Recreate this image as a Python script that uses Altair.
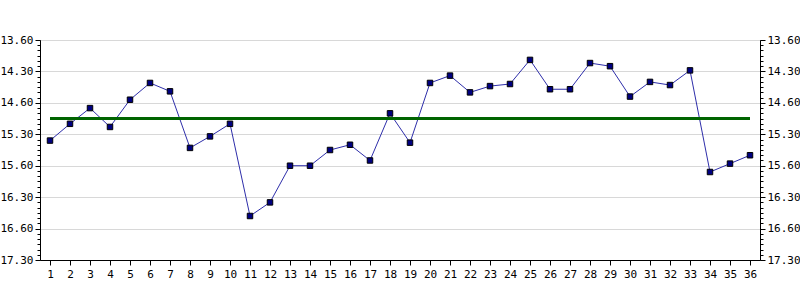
import altair as alt
import pandas as pd

# Race number (x) and finishing time in seconds (y); axis labels shown as min.sec style
races = list(range(1, 37))
times_sec = [
    936, 920, 905, 923, 897, 881, 889, 943, 932, 920,
    1008, 995, 960, 960, 945, 940, 955, 910, 938, 881,
    874, 890, 884, 882, 859, 887, 887, 862, 865, 894,
    880, 883, 869, 966, 958, 950,
]
mean_time = 915
y_tick_labels = ["13.60", "14.30", "14.60", "15.30", "15.60", "16.30", "16.60", "17.30"]
y_min, y_max, y_major = 840, 1050, 30
y_minor = 5

df = pd.DataFrame({"race": races, "time": times_sec})
mean_df = pd.DataFrame({"x0": [races[0]], "x1": [races[-1]], "t": [mean_time]})

font = "DejaVu Sans Mono"
label_arr = "[" + ",".join("'%s'" % s for s in y_tick_labels) + "]"
label_expr = (
    f"datum.value % {y_major} === 0 ? {label_arr}[round((datum.value - {y_min}) / {y_major})] : ''"
)
major_test = f"datum.value % {y_major} === 0"
tick_vals = list(range(y_min, y_max + 1, y_minor))

yscale = alt.Scale(domain=[y_min, y_max], reverse=True, nice=False, zero=False)
xscale = alt.Scale(domain=[races[0] - 0.5, races[-1] + 0.5], nice=False, zero=False)


def y_axis(orient, grid):
    return alt.Axis(
        orient=orient,
        values=tick_vals,
        labelExpr=label_expr,
        labelOverlap=False,
        labelFlush=False,
        labelFont=font,
        labelFontSize=11,
        labelColor="black",
        labelPadding=2,
        tickColor="black",
        tickSize={"condition": {"test": major_test, "value": 5}, "value": 3},
        domainColor="black",
        grid=grid,
        gridColor={"condition": {"test": major_test, "value": "#d8d8d8"}, "value": "transparent"},
        title=None,
    )


xaxis = alt.Axis(
    values=races,
    labelOverlap=False,
    labelFlush=False,
    labelFont=font,
    labelFontSize=11,
    labelColor="black",
    labelAngle=0,
    tickColor="black",
    tickSize=5,
    domainColor="black",
    grid=False,
    title=None,
    labelPadding=3,
)
left_axis = y_axis("left", True)
right_axis = y_axis("right", False)

line = alt.Chart(df).mark_line(color="#2e2eaa", strokeWidth=1).encode(
    x=alt.X("race:Q", scale=xscale, axis=xaxis),
    y=alt.Y("time:Q", scale=yscale, axis=left_axis),
)
mean_rule = alt.Chart(mean_df).mark_rule(color="#006400", strokeWidth=3).encode(
    x=alt.X("x0:Q", scale=xscale, axis=xaxis),
    x2="x1:Q",
    y=alt.Y("t:Q", scale=yscale, axis=left_axis),
)
points = alt.Chart(df).mark_square(
    size=30, color="#000080", stroke="black", strokeWidth=1, opacity=1, filled=True
).encode(
    x=alt.X("race:Q", scale=xscale, axis=xaxis),
    y=alt.Y("time:Q", scale=yscale, axis=left_axis),
)
left = alt.layer(line, mean_rule, points)

right = alt.Chart(df).mark_point(opacity=0).encode(
    x=alt.X("race:Q", scale=xscale, axis=xaxis),
    y=alt.Y("time:Q", scale=yscale, axis=right_axis),
)

chart = (
    alt.layer(left, right)
    .resolve_scale(y="independent")
    .properties(
        width=720,
        height=220,
        autosize=alt.AutoSizeParams(type="none"),
        padding={"left": 40, "top": 40, "right": 40, "bottom": 40},
        background="white",
    )
    .configure_view(stroke="black", strokeWidth=1)
)

chart.save("out.html", embed_options={"renderer": "svg", "actions": False})
